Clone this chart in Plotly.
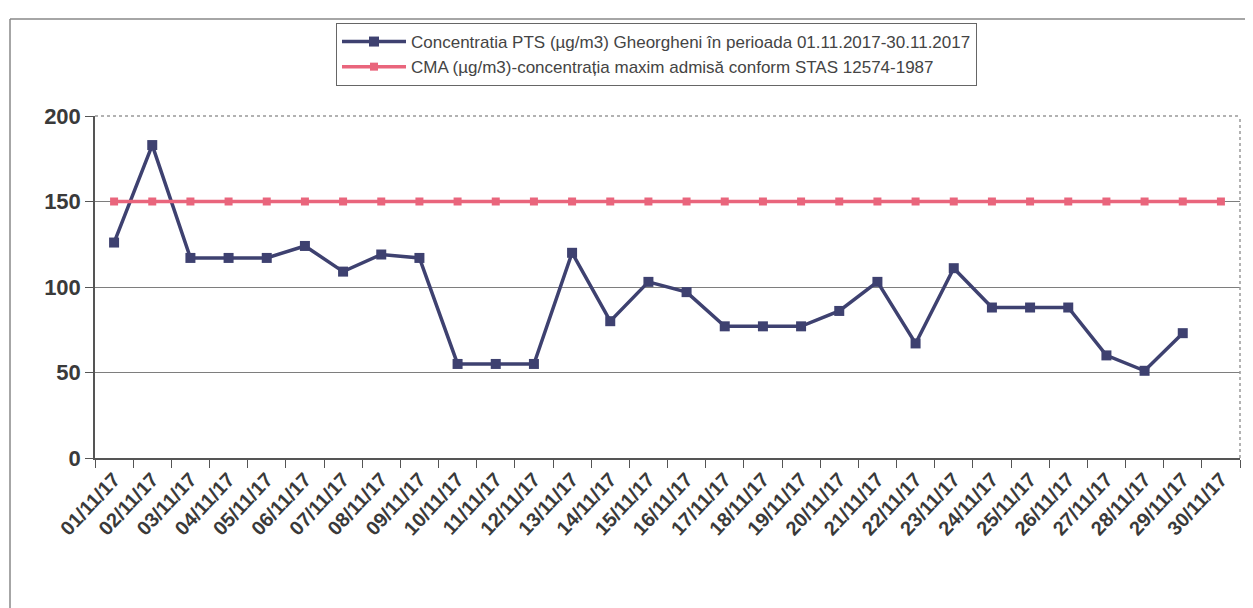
import plotly.graph_objects as go

dates = ["01/11/17", "02/11/17", "03/11/17", "04/11/17", "05/11/17", "06/11/17",
         "07/11/17", "08/11/17", "09/11/17", "10/11/17", "11/11/17", "12/11/17",
         "13/11/17", "14/11/17", "15/11/17", "16/11/17", "17/11/17", "18/11/17",
         "19/11/17", "20/11/17", "21/11/17", "22/11/17", "23/11/17", "24/11/17",
         "25/11/17", "26/11/17", "27/11/17", "28/11/17", "29/11/17", "30/11/17"]

pts_values = [126, 183, 117, 117, 117, 124, 109, 119, 117, 55, 55, 55,
              120, 80, 103, 97, 77, 77, 77, 86, 103, 67, 111, 88,
              88, 88, 60, 51, 73]

cma_values = [150] * 30

pts_name = "Concentratia PTS (µg/m3) Gheorgheni în perioada 01.11.2017-30.11.2017"
cma_name = "CMA (µg/m3)-concentrația maxim admisă conform STAS 12574-1987"

fig = go.Figure()
fig.add_trace(go.Scatter(
    x=dates[:len(pts_values)], y=pts_values, name=pts_name, mode="lines+markers",
    line=dict(color="#3e4170", width=3.5),
    marker=dict(symbol="square", size=10, color="#3e4170"),
))
fig.add_trace(go.Scatter(
    x=dates, y=cma_values, name=cma_name, mode="lines+markers",
    line=dict(color="#e9657c", width=3.5),
    marker=dict(symbol="square", size=8, color="#e9657c"),
))

# page body has an 8px margin, so figure coordinates = screen - 8
OFF = 8
W, H = 1245, 600
L, R, T, B = 95 - OFF, 13, 116 - OFF, 150
pw, ph = W - L - R, H - T - B

def px(x):
    return (x - OFF - L) / pw

def py(y):
    return (H - B - (y - OFF)) / ph

fig.update_layout(
    width=W, height=H,
    margin=dict(l=L, r=R, t=T, b=B, autoexpand=False),
    paper_bgcolor="white", plot_bgcolor="white",
    font=dict(family="Liberation Sans, Arial, sans-serif", color="#333333"),
    showlegend=True,
    legend=dict(
        x=px(336), y=py(23), xanchor="left", yanchor="top",
        bordercolor="#666666", borderwidth=1, bgcolor="white",
        font=dict(size=17, color="#444444"),
        tracegroupgap=0, itemwidth=64,
    ),
    xaxis=dict(
        type="category", tickangle=-47, tickson="boundaries",
        ticks="outside", ticklen=8, tickcolor="#555555",
        showline=True, linecolor="#555555", linewidth=1.5,
        showgrid=False, range=[-0.5, 29.5], automargin=False,
        tickfont=dict(size=20, color="#3a3a3a", weight="bold"),
    ),
    yaxis=dict(
        range=[0, 200], tickvals=[0, 50, 100, 150, 200],
        ticks="outside", ticklen=8, tickcolor="#555555",
        showline=True, linecolor="#555555", linewidth=1.5,
        showgrid=True, gridcolor="#7e7e7e", gridwidth=1,
        tickfont=dict(size=22, color="#3a3a3a", weight="bold"),
        zeroline=False, automargin=False,
    ),
    shapes=[
        dict(type="line", xref="paper", yref="paper",
             x0=px(10), x1=px(1260), y0=py(19), y1=py(19),
             line=dict(color="#888888", width=1.5), layer="below"),
        dict(type="line", xref="paper", yref="paper",
             x0=px(10), x1=px(10), y0=py(19), y1=py(620),
             line=dict(color="#888888", width=1.5), layer="below"),
        dict(type="line", xref="paper", yref="paper", x0=0, x1=1, y0=1, y1=1,
             line=dict(color="#999999", width=1.5, dash="dot")),
        dict(type="line", xref="paper", yref="paper", x0=1, x1=1, y0=0, y1=1,
             line=dict(color="#999999", width=1.5, dash="dot")),
    ],
)

fig.write_html("out.html")
